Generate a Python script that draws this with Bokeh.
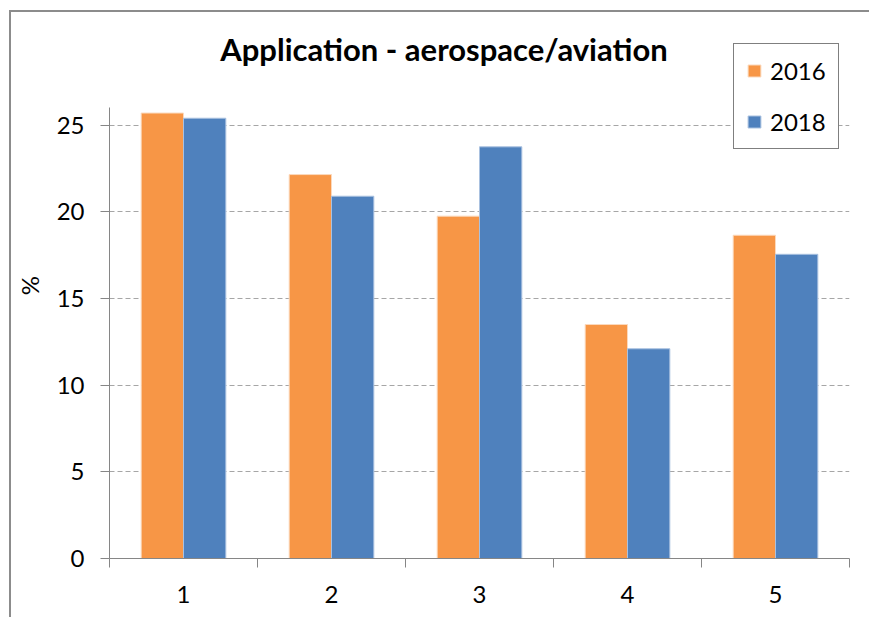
from bokeh.plotting import figure
from bokeh.models import (ColumnDataSource, Range1d, FixedTicker, Legend, LegendItem, Label)
from bokeh.embed import file_html
from bokeh.resources import INLINE

# Share of aerospace/aviation applications (%) by category and survey year
categories = [1, 2, 3, 4, 5]
share_2016 = [25.7, 22.15, 19.75, 13.5, 18.65]
share_2018 = [25.4, 20.9, 23.75, 12.1, 17.55]
y_ticks = [0, 5, 10, 15, 20, 25]

ORANGE = "#f79646"
BLUE = "#4f81bd"
AXIS_GRAY = "#868686"
FONT = "Lato"

bar_w = 0.286
src = ColumnDataSource(dict(
    x16=[c - bar_w / 2 for c in categories],
    x18=[c + bar_w / 2 for c in categories],
    v16=share_2016,
    v18=share_2018,
))

# the frame reaches up to the chart border so the title and legend sit inside it;
# the value axis itself stops at 26. The chart area runs past the right and
# bottom edges of the page.
p = figure(width=864, height=610, output_backend="svg", toolbar_location=None,
           x_range=Range1d(0.5, 5.5), y_range=Range1d(0, 31.5),
           min_border_left=97, min_border_right=26,
           min_border_top=0, min_border_bottom=64,
           outline_line_color=None, background_fill_color="white",
           border_fill_color="white")
p.margin = (12, 0, 0, 11)
# grey chart-area edge along the top and left sides
p.styles = {"box-shadow": "-2px -2px 0 0 #8c8c8c"}

r16 = p.vbar(x="x16", top="v16", width=bar_w, source=src,
             fill_color=ORANGE, line_color="#fbd9bd", line_width=1)
r18 = p.vbar(x="x18", top="v18", width=bar_w, source=src,
             fill_color=BLUE, line_color="#a9c1e0", line_width=1)

# x axis: labels at category centres, tick marks between categories
p.xaxis.ticker = FixedTicker(ticks=categories,
                             minor_ticks=[c - 0.5 for c in categories] + [5.5])
p.xaxis.major_tick_out = 0
p.xaxis.major_tick_in = 0
p.xaxis.minor_tick_out = 9
p.xaxis.minor_tick_in = 0
p.xaxis.minor_tick_line_color = AXIS_GRAY
p.xaxis.axis_line_color = AXIS_GRAY
p.xaxis.major_label_text_font_size = "24px"
p.xaxis.major_label_text_font = FONT
p.xaxis.major_label_text_color = "black"
p.xaxis.major_label_standoff = 18
p.xgrid.visible = False

# y axis
p.yaxis.ticker = FixedTicker(ticks=y_ticks)
p.yaxis.bounds = (0, 26)
p.yaxis.major_tick_out = 9
p.yaxis.major_tick_in = 0
p.yaxis.minor_tick_line_color = None
p.yaxis.axis_line_color = AXIS_GRAY
p.yaxis.major_tick_line_color = AXIS_GRAY
p.yaxis.major_label_text_font_size = "24px"
p.yaxis.major_label_text_font = FONT
p.yaxis.major_label_text_color = "black"
p.yaxis.major_label_standoff = 16
p.yaxis.axis_label = "%"
p.yaxis.axis_label_text_font = FONT
p.yaxis.axis_label_text_font_size = "24px"
p.yaxis.axis_label_text_font_style = "normal"
p.yaxis.axis_label_text_color = "black"
p.yaxis.axis_label_standoff = 10

p.ygrid.ticker = FixedTicker(ticks=[5, 10, 15, 20, 25])
p.ygrid.grid_line_color = "#a6a6a6"
p.ygrid.grid_line_dash = "5 3"
p.ygrid.grid_line_width = 1

# chart title
p.add_layout(Label(x=2.76, y=29.4, text="Application - aerospace/aviation",
                   text_font=FONT, text_font_style="bold",
                   text_font_size="31px", text_align="center",
                   text_baseline="middle", text_color="black"))

legend = Legend(items=[LegendItem(label="2016", renderers=[r16]),
                       LegendItem(label="2018", renderers=[r18])],
                location=(624, 409), orientation="vertical",
                label_text_font=FONT, label_text_font_size="24px",
                label_text_color="black",
                glyph_width=16, glyph_height=15, spacing=22,
                padding=12, margin=0, label_standoff=8,
                border_line_color="black", border_line_width=1,
                background_fill_color="white", background_fill_alpha=1)
p.add_layout(legend, "center")

open("out.html", "w").write(file_html(p, INLINE))
